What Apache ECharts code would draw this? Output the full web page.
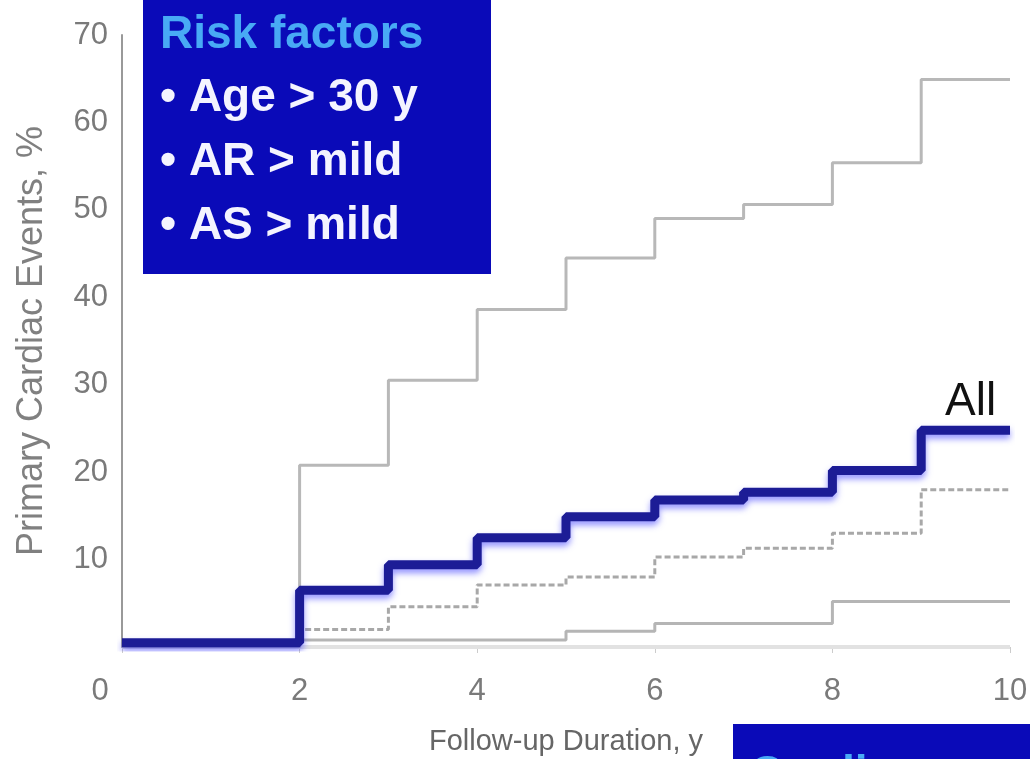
<!DOCTYPE html>
<html>
<head>
<meta charset="utf-8">
<script src="https://cdn.jsdelivr.net/npm/echarts@6/dist/echarts.min.js"></script>
<style>
  html, body { margin: 0; padding: 0; background: #fff; }
  #chart { width: 1030px; height: 759px; }
</style>
</head>
<body>
<div id="chart"></div>
<script>
// follow-up years where the curves step
const years = [0, 2, 3, 4, 5, 6, 7, 8, 9, 10]

// event rates, %
const allEvents = [0.5, 6.5, 9.4, 12.5, 14.9, 16.8, 17.7, 20.2, 24.8, 24.8]
const highRisk  = [0.3, 20.8, 30.5, 38.6, 44.5, 49.0, 50.6, 55.4, 64.9, 64.9]
const midRisk   = [0.3, 2.0, 4.6, 7.1, 8.0, 10.3, 11.3, 13.0, 18.0, 18.0]
const lowRisk   = [0.0, 0.8, 0.8, 0.8, 1.8, 2.7, 2.7, 5.2, 5.2, 5.2]
const noRisk    = [0.0, 0.0, 0.0, 0.0, 0.0, 0.0, 0.0, 0.0, 0.0, 0.0]

const yTicks = [0, 10, 20, 30, 40, 50, 60, 70]
const xTicks = [0, 2, 4, 6, 8, 10]

const boxTitle = 'Risk factors'
const boxItems = ['• Age > 30 y', '• AR > mild', '• AS > mild']

function pairs(vals) {
  return years.map((x, i) => [x, vals[i]])
}

const chart = echarts.init(document.getElementById('chart'))

const labelFont = "'Liberation Sans', Arial, sans-serif"
const boxFont = "bold 46px 'Liberation Sans', Arial, sans-serif"

// bullet lines of the blue box
const itemTexts = boxItems.map((t, i) => ({
  type: 'text',
  x: 160,
  y: 98 + i * 64,
  style: { text: t, fill: '#f4f4ff', font: boxFont, verticalAlign: 'middle' },
  z: 11
}))

const option = {
  backgroundColor: '#fff',
  animation: false,
  grid: { left: 122, right: 20, top: 35, bottom: 112, outerBoundsMode: 'none', containLabel: false },
  xAxis: {
    type: 'value',
    min: xTicks[0],
    max: xTicks[xTicks.length - 1],
    interval: 2,
    axisLine: { show: false },
    axisTick: { show: true, length: 6, lineStyle: { color: '#ccc' } },
    splitLine: { show: false },
    axisLabel: {
      margin: 29,
      color: '#7a7a7a',
      fontSize: 31,
      fontFamily: labelFont,
      formatter: v => (v === 0 ? '{z|0}' : String(v)),
      rich: { z: { padding: [0, 44, 0, 0], color: '#7a7a7a', fontSize: 31, fontFamily: labelFont } }
    },
    name: 'Follow-up Duration, y',
    nameLocation: 'middle',
    nameGap: 80,
    nameTextStyle: { color: '#666', fontSize: 29, fontFamily: labelFont }
  },
  yAxis: {
    type: 'value',
    min: yTicks[0],
    max: yTicks[yTicks.length - 1],
    interval: 10,
    axisLine: { show: true, lineStyle: { color: '#999', width: 2 } },
    axisTick: { show: false },
    splitLine: { show: false },
    axisLabel: {
      margin: 14,
      color: '#7a7a7a',
      fontSize: 31,
      fontFamily: labelFont,
      formatter: v => (v === 0 ? '' : String(v))
    },
    name: 'Primary Cardiac Events, %',
    nameLocation: 'middle',
    nameGap: 72,
    nameTextStyle: { color: '#808080', fontSize: 36, fontFamily: labelFont }
  },
  series: [
    {
      name: 'none',
      type: 'line',
      step: 'end',
      symbol: 'none',
      data: pairs(noRisk),
      lineStyle: { color: '#e2e2e2', width: 4 },
      z: 1
    },
    {
      name: 'low',
      type: 'line',
      step: 'end',
      symbol: 'none',
      data: pairs(lowRisk),
      lineStyle: { color: '#b5b5b5', width: 3 },
      z: 2
    },
    {
      name: 'mid',
      type: 'line',
      step: 'end',
      symbol: 'none',
      data: pairs(midRisk),
      lineStyle: { color: '#a8a8a8', width: 3, type: [6, 3] },
      z: 2
    },
    {
      name: 'high',
      type: 'line',
      step: 'end',
      symbol: 'none',
      data: pairs(highRisk),
      lineStyle: { color: '#b8b8b8', width: 3 },
      z: 2
    },
    {
      name: 'All',
      type: 'line',
      step: 'end',
      symbol: 'none',
      data: pairs(allEvents),
      lineStyle: {
        color: '#1c1c96',
        width: 9,
        shadowColor: 'rgba(60,60,255,0.55)',
        shadowBlur: 6,
        shadowOffsetY: 4
      },
      z: 5
    }
  ],
  graphic: [
    {
      type: 'rect',
      shape: { x: 143, y: 0, width: 348, height: 274 },
      style: { fill: '#0a0ab8' },
      z: 10
    },
    {
      type: 'text',
      x: 160,
      y: 35,
      style: { text: boxTitle, fill: '#48aaf5', font: boxFont, verticalAlign: 'middle' },
      z: 11
    },
    ...itemTexts,
    {
      type: 'text',
      x: 945,
      y: 402,
      style: { text: 'All', fill: '#111', font: "46px 'Liberation Sans', Arial, sans-serif", verticalAlign: 'middle' },
      z: 11
    },
    {
      type: 'rect',
      shape: { x: 733, y: 724, width: 300, height: 40 },
      style: { fill: '#0a0ab8' },
      z: 10
    },
    {
      type: 'text',
      x: 750,
      y: 775,
      style: { text: 'Cardiac events', fill: '#48aaf5', font: boxFont, verticalAlign: 'middle' },
      z: 11
    }
  ]
}

chart.setOption(option)
</script>
</body>
</html>
